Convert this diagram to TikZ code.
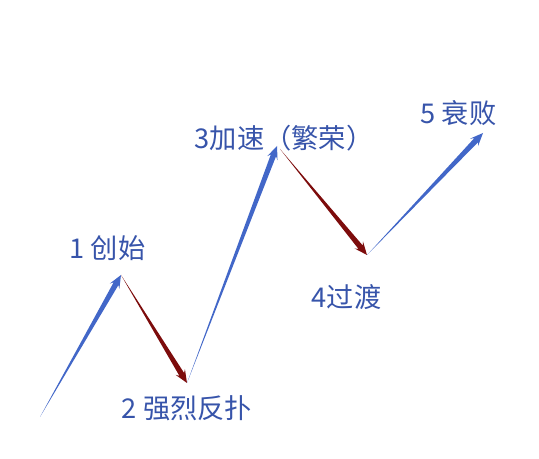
\documentclass[tikz,border=0pt]{standalone}
\usepackage{fontspec}
\setmainfont{Noto Sans CJK SC}
\usepackage{xcolor}
\usepackage{tikz}
\usetikzlibrary{calc}

\definecolor{waveblue}{RGB}{66,103,200}
\definecolor{wavered}{RGB}{125,12,12}
\definecolor{labelblue}{RGB}{55,84,170}

\tikzset{
  phase/.style={text=labelblue,font=\fontsize{15.5}{17}\selectfont,inner sep=0pt},
}

% tapered arrow from #1 to #2 in colour #3
\newcommand{\wavearrow}[3]{%
  \coordinate (sb) at ($(#2)!0.20cm!(#1)$);
  \coordinate (hb) at ($(#2)!0.26cm!(#1)$);
  \fill[#3] (#1) -- ($(sb)!0.055cm!90:(#2)$) -- ($(hb)!0.11cm!90:(#2)$)
    -- (#2) -- ($(hb)!0.11cm!-90:(#2)$) -- ($(sb)!0.055cm!-90:(#2)$) -- cycle;}

\begin{document}
\begin{tikzpicture}
      \useasboundingbox (0,0) rectangle (10.78,9.16);
      \coordinate (p0) at (0.80,0.82);
      \coordinate (p1) at (2.42,3.66);
      \coordinate (p2) at (3.74,1.50);
      \coordinate (p3) at (5.54,6.24);
      \coordinate (q3) at (5.60,6.18);
      \coordinate (p4) at (7.34,4.06);
      \coordinate (p5) at (9.66,6.50);
      \wavearrow{p0}{p1}{waveblue}
      \wavearrow{p1}{p2}{wavered}
      \wavearrow{p2}{p3}{waveblue}
      \wavearrow{q3}{p4}{wavered}
      \wavearrow{p4}{p5}{waveblue}
      \node[phase] (start) at (2.15,4.20) {1 创始};
      \node[phase] (strike) at (3.74,1.00) {2 强烈反扑};
      \node[phase] (boom) at (5.68,6.40) {3加速（繁荣）};
      \node[phase] (pass) at (6.93,3.22) {4过渡};
      \node[phase] (decay) at (9.17,6.90) {5 衰败};
    \end{tikzpicture}
\end{document}
